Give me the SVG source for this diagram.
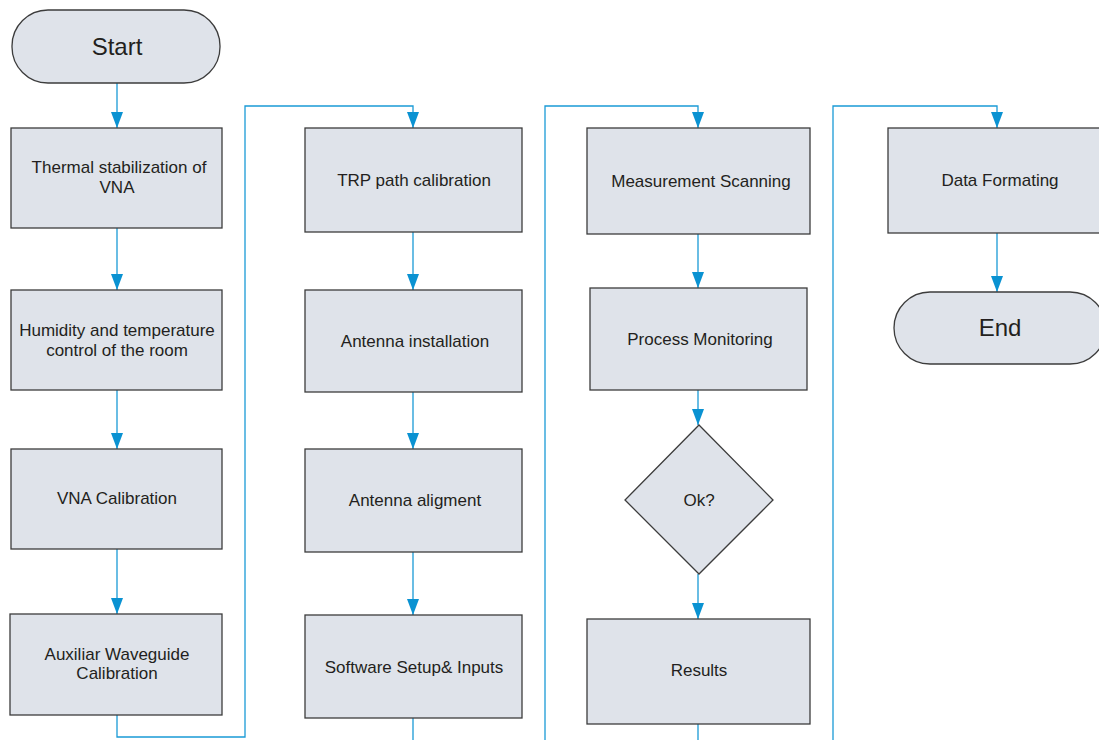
<svg xmlns="http://www.w3.org/2000/svg" width="1099" height="740" viewBox="0 0 1099 740">
<style>
.box{fill:#dfe3ea;stroke:#3c3c3c;stroke-width:1.3}
.t{font-family:"Liberation Sans",Arial,sans-serif;font-size:17px;fill:#231f20;text-anchor:middle}
.big{font-size:24px}
.c{fill:none;stroke:#1a9ad6;stroke-width:1.3}
</style>
<defs>
<marker id="ah" markerUnits="userSpaceOnUse" markerWidth="16" markerHeight="12" refX="16" refY="6" viewBox="0 0 16 12" orient="auto">
<path d="M0,0 L16,6 L0,12 Z" fill="#0a92d2"/>
</marker>
</defs>
<g id="connectors">
<path class="c" d="M117,83 V128" marker-end="url(#ah)"/>
<path class="c" d="M117,228 V290" marker-end="url(#ah)"/>
<path class="c" d="M117,390 V449" marker-end="url(#ah)"/>
<path class="c" d="M117,549 V614" marker-end="url(#ah)"/>
<path class="c" d="M117,715 V737 H245 V106 H413 V128" marker-end="url(#ah)"/>
<path class="c" d="M413,232 V290" marker-end="url(#ah)"/>
<path class="c" d="M413,392 V449" marker-end="url(#ah)"/>
<path class="c" d="M413,552 V615" marker-end="url(#ah)"/>
<path class="c" d="M413,718 V740"/>
<path class="c" d="M545,740 V106 H698 V128" marker-end="url(#ah)"/>
<path class="c" d="M698,234 V288" marker-end="url(#ah)"/>
<path class="c" d="M698,390 V425" marker-end="url(#ah)"/>
<path class="c" d="M698,574 V619" marker-end="url(#ah)"/>
<path class="c" d="M698,724 V740"/>
<path class="c" d="M833,740 V106 H997 V128" marker-end="url(#ah)"/>
<path class="c" d="M997,233 V292" marker-end="url(#ah)"/>
</g>
<g id="start"><rect class="box" x="12" y="10" width="208" height="73" rx="36" ry="36"/><text class="t big" x="117" y="55">Start</text></g>
<g id="thermal"><rect class="box" x="11" y="128" width="211" height="100"/><text class="t" x="119" y="173">Thermal stabilization of</text><text class="t" x="117" y="193">VNA</text></g>
<g id="humidity"><rect class="box" x="11" y="290" width="211" height="100"/><text class="t" x="117" y="336">Humidity and temperature</text><text class="t" x="117" y="356">control of the room</text></g>
<g id="vnacal"><rect class="box" x="11" y="449" width="211" height="100"/><text class="t" x="117" y="504">VNA Calibration</text></g>
<g id="auxcal"><rect class="box" x="10" y="614" width="212" height="101"/><text class="t" x="117" y="660">Auxiliar Waveguide</text><text class="t" x="117" y="679">Calibration</text></g>
<g id="trp"><rect class="box" x="305" y="128" width="217" height="104"/><text class="t" x="414" y="186">TRP path calibration</text></g>
<g id="antinst"><rect class="box" x="305" y="290" width="217" height="102"/><text class="t" x="415" y="347">Antenna installation</text></g>
<g id="antalign"><rect class="box" x="305" y="449" width="217" height="103"/><text class="t" x="415" y="506">Antenna aligment</text></g>
<g id="software"><rect class="box" x="305" y="615" width="217" height="103"/><text class="t" x="414" y="673">Software Setup&amp; Inputs</text></g>
<g id="measure"><rect class="box" x="587" y="128" width="223" height="106"/><text class="t" x="701" y="187">Measurement Scanning</text></g>
<g id="process"><rect class="box" x="590" y="288" width="217" height="102"/><text class="t" x="700" y="345">Process Monitoring</text></g>
<g id="ok"><polygon class="box" points="699,425 773,500 699,574 625,500"/><text class="t" x="699" y="506">Ok?</text></g>
<g id="results"><rect class="box" x="587" y="619" width="223" height="105"/><text class="t" x="699" y="676">Results</text></g>
<g id="dataformat"><rect class="box" x="888" y="128" width="222" height="105"/><text class="t" x="1000" y="186">Data Formating</text></g>
<g id="end"><rect class="box" x="894" y="292" width="212" height="72" rx="36" ry="36"/><text class="t big" x="1000" y="336">End</text></g>
</svg>
